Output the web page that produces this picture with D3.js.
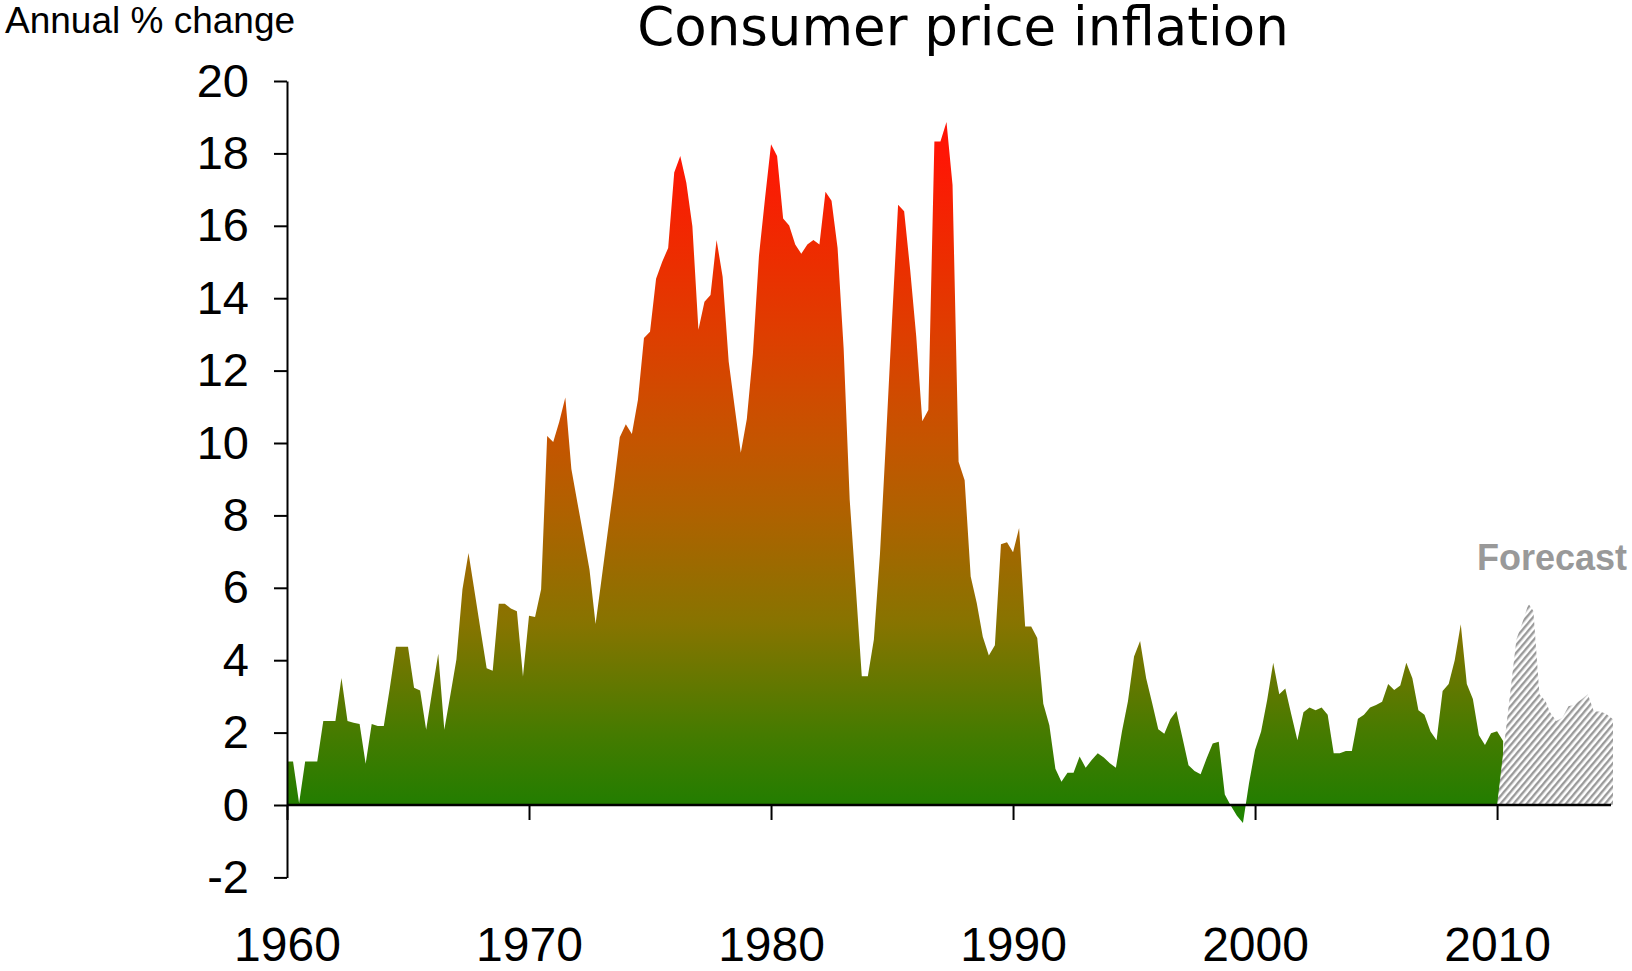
<!DOCTYPE html>
<html>
<head>
<meta charset="utf-8">
<script src="https://cdn.jsdelivr.net/npm/d3@7"></script>
<style>
  body { margin: 0; background: #fff; }
  svg { display: block; }
</style>
</head>
<body>
<div id="chart"></div>
<script>
// quarterly CPI, annual % change, one array per decade (first quarter = Jan of start year)
const cpi1960s = [1.2, 1.2, 0.05, 1.2, 1.2, 1.2, 2.32, 2.32, 2.32, 3.51,
                  2.32, 2.27, 2.24, 1.14, 2.24, 2.18, 2.18, 3.24, 4.37, 4.37,
                  4.37, 3.24, 3.16, 2.08, 3.15, 4.18, 2.08, 3.04, 4.02, 5.96,
                  6.96, 5.9, 4.83, 3.78, 3.71, 5.56, 5.56, 5.43, 5.35, 3.55];
const cpi1970s = [5.23, 5.19, 5.96, 10.19, 10.03, 10.59, 11.26, 9.28, 8.35, 7.44,
                  6.5, 5.0, 6.26, 7.53, 8.78, 10.16, 10.52, 10.25, 11.19, 12.9,
                  13.07, 14.54, 15.0, 15.39, 17.47, 17.93, 17.19, 15.99, 13.13, 13.9,
                  14.09, 15.61, 14.59, 12.25, 10.98, 9.73, 10.66, 12.46, 15.16, 16.75];
const cpi1980s = [18.25, 17.93, 16.2, 16.01, 15.48, 15.23, 15.48, 15.61, 15.48, 16.94,
                  16.69, 15.39, 12.62, 8.44, 6.03, 3.56, 3.56, 4.57, 6.92, 10.09,
                  13.39, 16.58, 16.4, 14.78, 12.94, 10.6, 10.91, 18.33, 18.33, 18.87,
                  17.13, 9.48, 8.97, 6.31, 5.58, 4.65, 4.13, 4.41, 7.2, 7.26];
const cpi1990s = [6.98, 7.65, 4.93, 4.93, 4.61, 2.8, 2.2, 1.0, 0.64, 0.89,
                  0.89, 1.34, 1.03, 1.24, 1.43, 1.31, 1.15, 1.03, 2.03, 2.87,
                  4.1, 4.53, 3.5, 2.81, 2.09, 1.97, 2.37, 2.6, 1.86, 1.1,
                  0.94, 0.85, 1.29, 1.7, 1.75, 0.29, -0.02, -0.3, -0.5, 0.6];
const cpi2000s = [1.52, 2.03, 2.9, 3.93, 3.06, 3.22, 2.49, 1.79, 2.56, 2.69,
                  2.62, 2.69, 2.49, 1.43, 1.43, 1.49, 1.49, 2.38, 2.49, 2.69,
                  2.76, 2.85, 3.34, 3.18, 3.3, 3.93, 3.5, 2.62, 2.49, 2.03,
                  1.79, 3.15, 3.34, 4.0, 4.99, 3.34, 2.93, 1.93, 1.66, 1.98];
const cpi2010s = [2.04, 1.77];

const forecastYears  = [2010.0, 2010.8, 2011.05, 2011.3, 2011.5, 2011.75, 2012.0, 2012.2, 2012.45,
                        2012.7, 2012.95, 2013.15, 2013.5, 2013.75, 2014.0, 2014.25, 2014.5, 2014.79];
const forecastValues = [0, 4.58, 5.05, 5.56, 5.36, 3.06, 2.87, 2.55, 2.32,
                        2.41, 2.73, 2.76, 2.92, 3.06, 2.58, 2.58, 2.52, 2.37];

const yTicks = [-2, 0, 2, 4, 6, 8, 10, 12, 14, 16, 18, 20];
const xTicks = [1960, 1970, 1980, 1990, 2000, 2010];

const width = 1632, height = 971;
const labelFont = "'Liberation Sans', Arial, sans-serif";

// flatten the decade arrays into {year, value}
const decades = [[1960, cpi1960s], [1970, cpi1970s], [1980, cpi1980s],
                 [1990, cpi1990s], [2000, cpi2000s], [2010, cpi2010s]];
const history = decades.flatMap(([start, vals]) =>
    vals.map((v, i) => ({year: start + i * 0.25, value: v})));
const forecast = forecastYears.map((yr, i) => ({year: yr, value: forecastValues[i]}));

const svg = d3.select("#chart").append("svg")
    .attr("width", width)
    .attr("height", height);

const x = d3.scaleLinear().domain([1960, 2014.79]).range([287, 1613]);
const y = d3.scaleLinear().domain([-2, 20]).range([877.4, 81]);

const defs = svg.append("defs");

// green -> olive -> red, by value
const grad = defs.append("linearGradient")
    .attr("id", "heat")
    .attr("gradientUnits", "userSpaceOnUse")
    .attr("x1", 0).attr("x2", 0)
    .attr("y1", y(-0.5)).attr("y2", y(19));
const stops = [
    [-0.5, "#1f8a00"], [0, "#227d00"], [2, "#467b00"], [5, "#877400"],
    [8, "#ae6200"], [10, "#c45500"], [13, "#de3e00"], [15, "#ec2e00"],
    [18, "#ff1605"], [19, "#ff1205"]
];
stops.forEach(([v, c]) => {
    grad.append("stop").attr("offset", (v + 0.5) / 19.5).attr("stop-color", c);
});

const hatch = defs.append("pattern")
    .attr("id", "hatch")
    .attr("patternUnits", "userSpaceOnUse")
    .attr("width", 5).attr("height", 5)
    .attr("patternTransform", "rotate(40)");
hatch.append("rect").attr("width", 5).attr("height", 5).attr("fill", "#fff");
hatch.append("rect").attr("width", 2.4).attr("height", 5).attr("fill", "#9a9a9a");

const area = d3.area()
    .x(d => x(d.year))
    .y0(y(0))
    .y1(d => y(d.value));

svg.append("path")
    .datum(history)
    .attr("d", area)
    .attr("fill", "url(#heat)");

svg.append("path")
    .datum(forecast)
    .attr("d", area)
    .attr("fill", "url(#hatch)");

// y axis (plain hyphen for the minus sign, like the original)
const yAxis = d3.axisLeft(y)
    .tickValues(yTicks)
    .tickFormat(d => String(d))
    .tickSize(13)
    .tickSizeOuter(0)
    .tickPadding(25);
const yG = svg.append("g")
    .attr("transform", "translate(287,0)")
    .call(yAxis);
yG.select(".domain").attr("stroke-width", 2);
yG.selectAll(".tick line").attr("stroke-width", 2);
yG.selectAll(".tick text")
    .attr("font-family", labelFont)
    .attr("font-size", 47)
    .attr("fill", "#000");

// zero line with decade ticks, labels well below
const xAxis = d3.axisBottom(x)
    .tickValues(xTicks)
    .tickFormat(d3.format("d"))
    .tickSize(15)
    .tickSizeOuter(0)
    .tickPadding(107);
const xG = svg.append("g")
    .attr("transform", `translate(0,${y(0)})`)
    .call(xAxis);
xG.select(".domain")
    .attr("d", `M${x(1960)},0H1611`)
    .attr("stroke-width", 2.5);
xG.selectAll(".tick line").attr("stroke-width", 2);
xG.selectAll(".tick text")
    .attr("font-family", labelFont)
    .attr("font-size", 48)
    .attr("fill", "#000");

// titles
svg.append("text")
    .attr("x", 963)
    .attr("y", 45)
    .attr("text-anchor", "middle")
    .attr("font-family", "'DejaVu Sans', Verdana, sans-serif")
    .attr("font-size", 53)
    .text("Consumer price inflation");

svg.append("text")
    .attr("x", 5)
    .attr("y", 33)
    .attr("font-family", labelFont)
    .attr("font-size", 37)
    .text("Annual % change");

svg.append("text")
    .attr("x", 1627)
    .attr("y", 570)
    .attr("text-anchor", "end")
    .attr("font-family", labelFont)
    .attr("font-weight", "bold")
    .attr("font-size", 36)
    .attr("fill", "#999")
    .text("Forecast");
</script>
</body>
</html>
